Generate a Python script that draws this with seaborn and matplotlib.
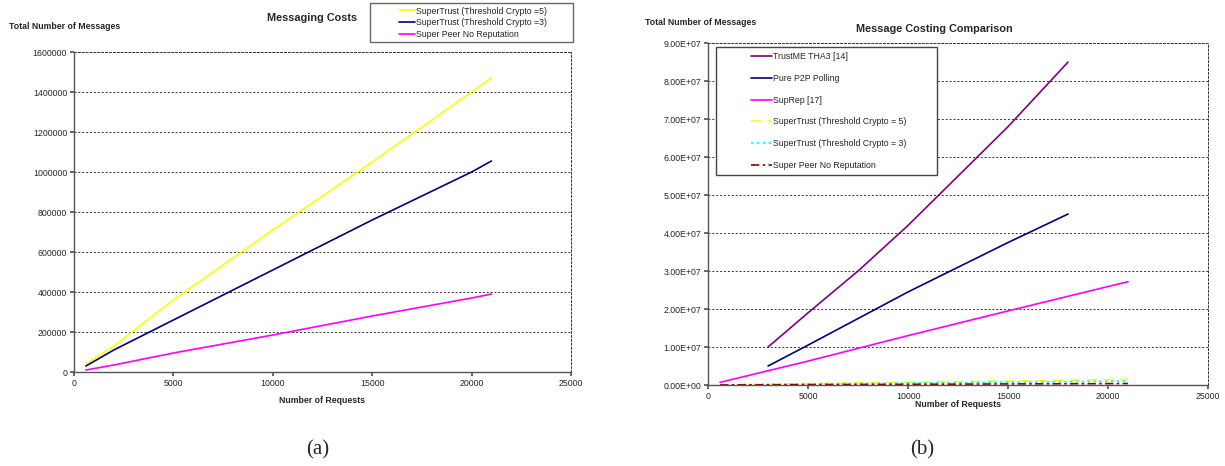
import matplotlib
matplotlib.use("Agg")
import matplotlib.pyplot as plt
import seaborn as sns
import numpy as np
import pandas as pd
from matplotlib.ticker import FuncFormatter
from matplotlib.lines import Line2D
from matplotlib.legend_handler import HandlerLine2D

# ---- data ----
req = [600, 2000, 5000, 10000, 15000, 20000, 21000]
st5 = [40000, 130000, 360000, 710000, 1050000, 1400000, 1470000]
st3 = [30000, 110000, 260000, 510000, 760000, 1000000, 1055000]
sp_norep = [10000, 35000, 95000, 185000, 280000, 370000, 390000]

req_b = [3000, 5000, 7500, 10000, 12500, 15000, 18000]
trustme = [1.0e7, 1.9e7, 3.0e7, 4.2e7, 5.5e7, 6.8e7, 8.5e7]
p2p = [5.0e6, 1.05e7, 1.75e7, 2.45e7, 3.1e7, 3.75e7, 4.5e7]

req_sr = [600, 5000, 10000, 15000, 21000]
suprep = [0.7e6, 6.3e6, 1.3e7, 1.95e7, 2.72e7]

names_a = ["SuperTrust (Threshold Crypto =5)", "SuperTrust (Threshold Crypto =3)",
           "Super Peer No Reputation"]
names_b = ["TrustME THA3 [14]", "Pure P2P Polling", "SupRep [17]",
           "SuperTrust (Threshold Crypto = 5)", "SuperTrust (Threshold Crypto = 3)",
           "Super Peer No Reputation"]

sns.set_theme(style="white")
plt.rcParams['font.family'] = ['Liberation Sans', 'DejaVu Sans']

SMALL = 6.3
fig = plt.figure(figsize=(12.25, 4.66), dpi=100)


class RightLine(HandlerLine2D):
    # excel style legend key: line only on the right part of the key area
    def __init__(self, frac, **kw):
        super().__init__(**kw)
        self.frac = frac

    def get_xdata(self, legend, xdescent, ydescent, width, height, fontsize):
        x = np.array([-xdescent + width * (1 - self.frac), -xdescent + width])
        return x, x


def excel_axes(ax):
    ax.grid(axis='y', linestyle=(0, (2, 2)), color='#333333', linewidth=0.7)
    for s in ['left', 'bottom']:
        ax.spines[s].set_color('#555555')
        ax.spines[s].set_linewidth(1.0)
    for s in ['top', 'right']:
        ax.spines[s].set_linestyle((0, (2, 2)))
        ax.spines[s].set_color('#333333')
        ax.spines[s].set_linewidth(0.7)
    ax.tick_params(axis='both', labelsize=SMALL, length=3, direction='out',
                   color='#555555', left=True, bottom=True, pad=2)
    ax.set_xlim(0, 25000)
    ax.set_xticks(range(0, 25001, 5000))


# ---- (a) ----
ax1 = fig.add_axes([0.0604, 0.2017, 0.4057, 0.6867])
df_a = pd.DataFrame({"x": req * 3, "y": st5 + st3 + sp_norep,
                     "s": [names_a[0]] * 7 + [names_a[1]] * 7 + [names_a[2]] * 7})
sns.lineplot(data=df_a, x="x", y="y", hue="s", ax=ax1,
             palette=["#FFFF00", "#000080", "#FF00FF"], linewidth=1.2, legend=True)
excel_axes(ax1)
ax1.set_ylim(0, 1600000)
ax1.set_yticks(range(0, 1600001, 200000))
ax1.yaxis.set_major_formatter(FuncFormatter(lambda v, p: "%d" % v))
ax1.set_xlabel("Number of Requests", fontsize=SMALL, fontweight='bold', labelpad=6)
ax1.set_ylabel("")
leg = ax1.legend(title=None, fontsize=SMALL, loc='upper left',
                 bbox_to_anchor=(0.5956, 1.034, 0.4085, 0.119), mode='expand',
                 frameon=True, fancybox=False,
                 handlelength=4.7, handletextpad=0.2, borderpad=0.4,
                 labelspacing=0.3, borderaxespad=0,
                 handler_map={Line2D: RightLine(0.38)})
leg.get_frame().set_edgecolor('#444444')
leg.get_frame().set_linewidth(1.0)
fig.text(0.0073, 0.944, "Total Number of Messages", fontsize=SMALL, fontweight='bold',
         ha='left', va='center')
fig.text(0.2551, 0.961, "Messaging Costs", fontsize=7.8, fontweight='bold',
         ha='center', va='center')

# ---- (b) ----
ax2 = fig.add_axes([0.578, 0.1738, 0.4082, 0.7339])
df_b = pd.concat([
    pd.DataFrame({"x": req_b, "y": trustme, "s": names_b[0]}),
    pd.DataFrame({"x": req_b, "y": p2p, "s": names_b[1]}),
    pd.DataFrame({"x": req_sr, "y": suprep, "s": names_b[2]}),
    pd.DataFrame({"x": req, "y": st5, "s": names_b[3]}),
    pd.DataFrame({"x": req, "y": st3, "s": names_b[4]}),
    pd.DataFrame({"x": req, "y": sp_norep, "s": names_b[5]}),
])
styles = {names_b[0]: "", names_b[1]: "", names_b[2]: "",
          names_b[3]: (6, 4), names_b[4]: (1.5, 2), names_b[5]: (5, 2, 1.5, 2)}
sns.lineplot(data=df_b, x="x", y="y", hue="s", style="s", dashes=styles, ax=ax2,
             palette=["#800080", "#000080", "#FF00FF", "#FFFF00", "#00FFFF", "#8B0000"],
             linewidth=1.2)
excel_axes(ax2)
ax2.set_ylim(0, 9e7)
ax2.set_yticks([i * 1e7 for i in range(10)])
ax2.yaxis.set_major_formatter(FuncFormatter(lambda v, p: "%.2fE+07" % (v / 1e7) if v > 0 else "0.00E+00"))
ax2.set_xlabel("Number of Requests", fontsize=SMALL, fontweight='bold', labelpad=-1)
ax2.set_ylabel("")
leg2 = ax2.legend(title=None, fontsize=SMALL, loc='upper left',
                  bbox_to_anchor=(0.016, 0.617, 0.442, 0.371), mode='expand',
                  frameon=True, fancybox=False,
                  handlelength=5.8, handletextpad=0.1, borderpad=0.6,
                  labelspacing=1.45, borderaxespad=0, framealpha=1,
                  handler_map={Line2D: RightLine(0.41)})
leg2.get_frame().set_edgecolor('#444444')
leg2.get_frame().set_linewidth(1.0)
fig.text(0.5265, 0.951, "Total Number of Messages", fontsize=SMALL, fontweight='bold',
         ha='left', va='center')
fig.text(0.7625, 0.938, "Message Costing Comparison", fontsize=7.8, fontweight='bold',
         ha='center', va='center')

# ---- panel captions ----
fig.text(0.2596, 0.034, "(a)", fontsize=15, family='Liberation Serif', ha='center', va='center')
fig.text(0.7527, 0.034, "(b)", fontsize=15, family='Liberation Serif', ha='center', va='center')

fig.savefig("out.png", dpi=100)
